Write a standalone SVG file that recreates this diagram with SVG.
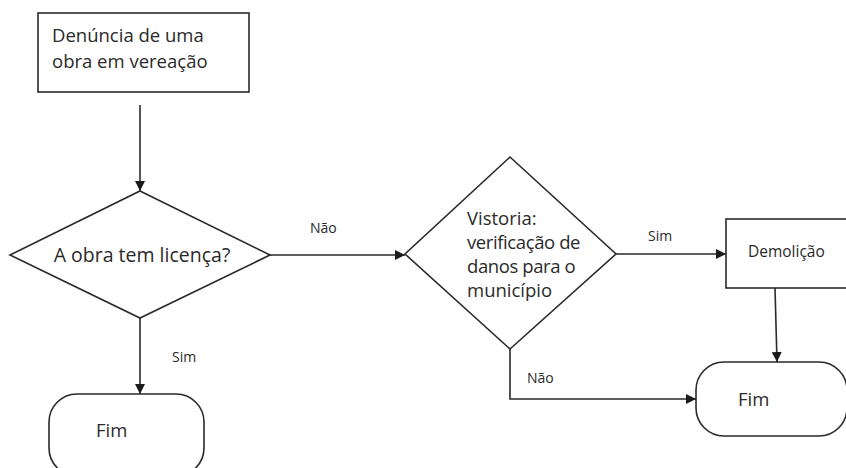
<svg xmlns="http://www.w3.org/2000/svg" width="846" height="468" viewBox="0 0 846 468">
<defs>
<marker id="arr" viewBox="0 0 10 10" refX="10" refY="5" markerWidth="10" markerHeight="10" markerUnits="userSpaceOnUse" orient="auto">
<path d="M0,0 L10,5 L0,10 Z" fill="#1a1a1a"/>
</marker>
</defs>
<style>
.shape{fill:#fff;stroke:#2a2a2a;stroke-width:1.6}
.conn{fill:none;stroke:#2a2a2a;stroke-width:1.6}
text{font-family:"Open Sans","Noto Sans",sans-serif;fill:#2a2a2a}
.t{font-size:18.5px}
.lbl{font-size:14px}
</style>
<rect width="846" height="468" fill="#fff"/>
<g id="connectors">
<line class="conn" x1="140" y1="105" x2="140" y2="191" marker-end="url(#arr)"/>
<line class="conn" x1="270" y1="255" x2="405" y2="255" marker-end="url(#arr)"/>
<line class="conn" x1="140" y1="318" x2="140" y2="394" marker-end="url(#arr)"/>
<line class="conn" x1="616" y1="254" x2="726" y2="254" marker-end="url(#arr)"/>
<line class="conn" x1="775" y1="288" x2="777" y2="362" marker-end="url(#arr)"/>
<polyline class="conn" points="510,349 510,399 696,399" marker-end="url(#arr)"/>
<text class="lbl" x="310" y="233">Não</text>
<text class="lbl" x="172" y="362">Sim</text>
<text class="lbl" x="648" y="241">Sim</text>
<text class="lbl" x="527" y="383">Não</text>
</g>
<g id="denuncia">
<rect class="shape" x="38" y="13" width="211" height="79"/>
<text class="t" x="52" y="42">Denúncia de uma</text>
<text class="t" x="52" y="68">obra em vereação</text>
</g>
<g id="licenca">
<polygon class="shape" points="140,191 270,255 140,318 10,255"/>
<text class="t" x="142" y="262" text-anchor="middle" style="font-size:19.5px">A obra tem licença?</text>
</g>
<g id="fim1">
<rect class="shape" x="49" y="394" width="155" height="82" rx="28" ry="28"/>
<text class="t" x="96" y="437">Fim</text>
</g>
<g id="vistoria">
<polygon class="shape" points="510,157 616,254 510,349 405,254"/>
<text class="t" x="467" y="225">Vistoria:</text>
<text class="t" x="467" y="249" letter-spacing="-0.4">verificação de</text>
<text class="t" x="467" y="273" letter-spacing="-0.4">danos para o</text>
<text class="t" x="467" y="297">município</text>
</g>
<g id="demolicao">
<rect class="shape" x="726" y="219" width="130" height="69"/>
<text class="lbl" x="748" y="257" style="font-size:15.5px">Demolição</text>
</g>
<g id="fim2">
<rect class="shape" x="696" y="362" width="151" height="74" rx="28" ry="28"/>
<text class="t" x="738" y="406">Fim</text>
</g>
</svg>
